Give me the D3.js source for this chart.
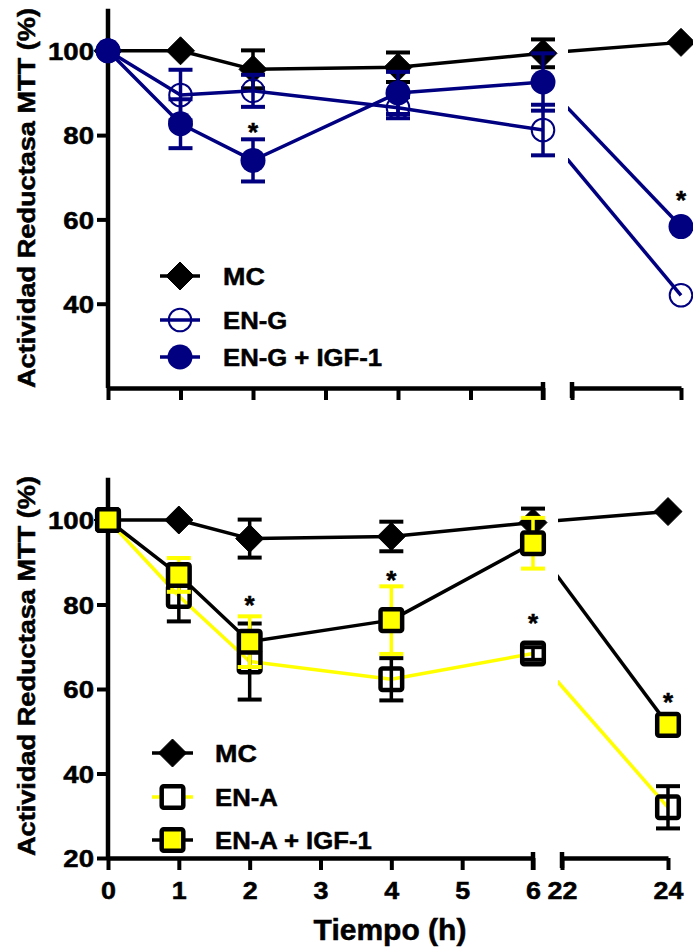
<!DOCTYPE html>
<html>
<head>
<meta charset="utf-8">
<script src="https://cdn.jsdelivr.net/npm/d3@7"></script>
<style>
  html, body { margin: 0; padding: 0; background: #fff; }
  svg { display: block; }
  text { font-family: "Liberation Sans", Arial, sans-serif; font-weight: bold; fill: #000; stroke: #000; stroke-width: 0.5px; }
</style>
</head>
<body>
<svg id="chart" width="693" height="949"></svg>
<script>
// ---------------- DATA ----------------
const hours = [0, 1, 2, 4, 6, 24];

const mcValues = [100, 100, 95.6, 96.1, 99.4, 102];
const mcErrors = [0, 0, 4.5, 3.5, 3.3, 0];

const engValues = [100, 89.5, 90.5, 86.5, 81.2, 42];
const engErrors = [0, 6, 3.8, 2.5, 6, 0];

const engIgfValues = [100, 82.7, 74, 90, 92.6, 58.3];
const engIgfErrors = [0, 5.8, 5, 5, 6.8, 0];

const enaValues = [100, 82, 66.5, 62.3, 68.4, 32];
const enaErrors = [0, 6, 9, 5, 1.5, 5];

const enaIgfValues = [100, 87, 71.2, 76.3, 94.5, 51.5];
const enaIgfErrors = [0, 4, 6, 8, 6, 0];

// significance marks (hour, value at the mark)
const starsTop = [[2, 82], [24, 65.8]];
const starsBottom = [[2, 81], [4, 87], [6, 76.8], [24, 58.1]];

const xTicksFirst = [0, 1, 2, 3, 4, 5, 6];
const xTicksSecond = [22, 24];
const yTicksTop = [40, 60, 80, 100];
const yTicksBottom = [20, 40, 60, 80, 100];

const legendTop = ["MC", "EN-G", "EN-G + IGF-1"];
const legendBottom = ["MC", "EN-A", "EN-A + IGF-1"];

const yTitle = "Actividad Reductasa MTT (%)";
const xTitle = "Tiempo (h)";

// ---------------- DRAWING ----------------
const NAVY = "#000080", YEL = "#ffff00", BLK = "#000";
const svg = d3.select("#chart");

function stretch(sel, f) {
  sel.each(function () {
    const L = this.getComputedTextLength();
    this.setAttribute("textLength", L * f);
    this.setAttribute("lengthAdjust", "spacingAndGlyphs");
  });
}

function marker(g, type, x, y, stroke, fill) {
  if (type === "diamond") {
    const s = 14;
    g.append("path").attr("d", `M${x},${y - s}L${x + s},${y}L${x},${y + s}L${x - s},${y}Z`)
      .attr("fill", BLK).attr("stroke", BLK).attr("stroke-width", 1);
  } else if (type === "circleFilled") {
    g.append("circle").attr("cx", x).attr("cy", y).attr("r", 12.5).attr("fill", fill);
  } else if (type === "circleOpen") {
    g.append("circle").attr("cx", x).attr("cy", y).attr("r", 11.3)
      .attr("fill", fill).attr("stroke", stroke).attr("stroke-width", 2);
  } else if (type === "square") {
    const s = 10.8;
    g.append("rect").attr("x", x - s).attr("y", y - s).attr("width", 2 * s).attr("height", 2 * s)
      .attr("rx", 2).attr("fill", fill).attr("stroke", BLK).attr("stroke-width", 4.5);
  }
}

function drawPanel(cfg) {
  const xA = d3.scaleLinear().domain([0, 6]).range(cfg.xRangeA);
  const xB = d3.scaleLinear().domain([22, 24]).range(cfg.xRangeB);
  const xp = t => (t <= 6 ? xA(t) : xB(t));
  const y = d3.scaleLinear().domain([20, 110]).range([cfg.yBottom, cfg.yBottom - 90 * cfg.pxPerUnit]);
  const g = svg.append("g");

  const clipId = "clip" + cfg.id;
  svg.append("defs").append("clipPath").attr("id", clipId)
    .append("rect").attr("x", cfg.xRangeA[1] + 25).attr("y", 0).attr("width", 300).attr("height", 949);

  // axes
  const yAxis = d3.axisLeft(y).tickValues(cfg.yTicks).tickSize(11).tickSizeOuter(0).tickPadding(3);
  const gy = g.append("g").attr("transform", `translate(${cfg.xRangeA[0]},0)`).call(yAxis);
  gy.select(".domain").attr("stroke-width", 4.5).attr("d", `M0,${y(110)}V${y(20)}`);
  gy.selectAll(".tick line").attr("stroke-width", 4);
  gy.selectAll(".tick text").attr("font-size", 24).attr("dy", "0.36em").attr("fill", BLK)
    .style("font-family", '"Liberation Sans", Arial, sans-serif').style("font-weight", "bold");
  stretch(gy.selectAll(".tick text"), 1.15);

  const fmt = cfg.showXLabels ? d3.format("d") : () => "";
  const xAxisA = d3.axisBottom(xA).tickValues(xTicksFirst).tickSize(12).tickSizeOuter(0).tickPadding(12).tickFormat(fmt);
  const xAxisB = d3.axisBottom(xB).tickValues(xTicksSecond).tickSize(12).tickSizeOuter(0).tickPadding(12).tickFormat(fmt);
  [xAxisA, xAxisB].forEach(ax => {
    const gx = g.append("g").attr("transform", `translate(0,${cfg.yBottom})`).call(ax);
    gx.select(".domain").attr("stroke-width", 4.5);
    gx.selectAll(".tick line").attr("stroke-width", 4);
    gx.selectAll(".tick text").attr("font-size", 24).attr("fill", BLK)
      .style("font-family", '"Liberation Sans", Arial, sans-serif').style("font-weight", "bold");
    stretch(gx.selectAll(".tick text"), 1.12);
  });
  g.append("line").attr("x1", xA(6)).attr("x2", xA(6)).attr("y1", cfg.yBottom - 6).attr("y2", cfg.yBottom + 12)
    .attr("stroke", BLK).attr("stroke-width", 4.5);
  g.append("line").attr("x1", xB(22)).attr("x2", xB(22)).attr("y1", cfg.yBottom - 6).attr("y2", cfg.yBottom + 10)
    .attr("stroke", BLK).attr("stroke-width", 4.5);

  // series
  cfg.series.forEach(s => {
    const pts = hours.map((h, i) => [xp(h), y(s.values[i])]);
    const line = d3.line();
    g.append("path").attr("d", line(pts.slice(0, 5))).attr("fill", "none")
      .attr("stroke", s.lineColor).attr("stroke-width", 3.5).attr("stroke-linejoin", "round");
    g.append("path").attr("d", line(pts.slice(4, 6))).attr("fill", "none")
      .attr("clip-path", `url(#${clipId})`)
      .attr("stroke", s.lineColor).attr("stroke-width", 3.5);
    hours.forEach((h, i) => {
      const e = s.errors[i];
      if (!e) return;
      const x = xp(h), y1 = y(s.values[i] + e), y2 = y(s.values[i] - e);
      g.append("line").attr("x1", x).attr("x2", x).attr("y1", y1).attr("y2", y2)
        .attr("stroke", s.errColor).attr("stroke-width", 3.5);
      [y1, y2].forEach(yy => g.append("line").attr("x1", x - 12).attr("x2", x + 12)
        .attr("y1", yy).attr("y2", yy).attr("stroke", s.errColor).attr("stroke-width", 4));
    });
    pts.forEach(p => marker(g, s.marker, p[0], p[1], s.markerStroke, s.markerFill));
  });

  // stars
  cfg.stars.forEach(([h, v]) => {
    g.append("text").attr("x", xp(h)).attr("y", y(v) + 14).attr("text-anchor", "middle")
      .attr("font-size", 26).text("*");
  });

  // legend
  cfg.legend.forEach((name, i) => {
    const s = cfg.series[i];
    const ly = cfg.legendY[i];
    g.append("line").attr("x1", cfg.legendX[0]).attr("x2", cfg.legendX[1]).attr("y1", ly).attr("y2", ly)
      .attr("stroke", s.lineColor).attr("stroke-width", 3.5);
    const mx = (cfg.legendX[0] + cfg.legendX[1]) / 2;
    marker(g, s.marker, mx, ly, s.markerStroke, s.marker === "square" && s.markerFill === "none" ? "#fff" : s.markerFill);
    const t = g.append("text").attr("x", cfg.legendTextX).attr("y", ly + 8.6).attr("font-size", 24).text(name);
    stretch(t, name === "MC" ? 1.12 : 1.07);
  });

  // y title
  g.append("text").attr("transform", `translate(35,${cfg.titleCenter}) rotate(-90)`)
    .attr("text-anchor", "middle").attr("font-size", 24).text(yTitle)
    .attr("textLength", 380).attr("lengthAdjust", "spacingAndGlyphs");

  return { xA, xB, y };
}

drawPanel({
  id: "top",
  xRangeA: [108, 543], xRangeB: [572, 681],
  yBottom: 388, pxPerUnit: 4.215,
  yTicks: yTicksTop, showXLabels: false,
  series: [
    { values: mcValues, errors: mcErrors, lineColor: BLK, errColor: BLK, marker: "diamond", markerStroke: BLK, markerFill: BLK },
    { values: engValues, errors: engErrors, lineColor: NAVY, errColor: NAVY, marker: "circleOpen", markerStroke: NAVY, markerFill: "none" },
    { values: engIgfValues, errors: engIgfErrors, lineColor: NAVY, errColor: NAVY, marker: "circleFilled", markerStroke: NAVY, markerFill: NAVY }
  ],
  stars: starsTop,
  legend: legendTop, legendY: [276, 320, 357], legendX: [160, 200], legendTextX: 223,
  titleCenter: 198
});

drawPanel({
  id: "bottom",
  xRangeA: [108, 533], xRangeB: [562, 668],
  yBottom: 858, pxPerUnit: 4.225,
  yTicks: yTicksBottom, showXLabels: true,
  series: [
    { values: mcValues, errors: mcErrors, lineColor: BLK, errColor: BLK, marker: "diamond", markerStroke: BLK, markerFill: BLK },
    { values: enaValues, errors: enaErrors, lineColor: YEL, errColor: BLK, marker: "square", markerStroke: BLK, markerFill: "none" },
    { values: enaIgfValues, errors: enaIgfErrors, lineColor: BLK, errColor: YEL, marker: "square", markerStroke: BLK, markerFill: YEL }
  ],
  stars: starsBottom,
  legend: legendBottom, legendY: [753, 797, 840], legendX: [152, 193], legendTextX: 215,
  titleCenter: 666
});

svg.append("text").attr("x", 390).attr("y", 940).attr("text-anchor", "middle")
  .attr("font-size", 30).text(xTitle);
</script>
</body>
</html>
